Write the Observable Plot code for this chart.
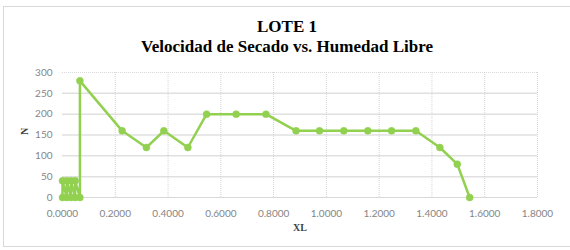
<!DOCTYPE html>
<html>
<head>
<meta charset="utf-8">
<script src="https://cdn.jsdelivr.net/npm/d3@7"></script>
<script src="https://cdn.jsdelivr.net/npm/@observablehq/plot@0.6"></script>
<style>
  html, body { margin: 0; padding: 0; background: #fff; overflow: hidden; width: 570px; height: 250px; }
  #frame { position: absolute; left: 3px; top: 6px; width: 600px; height: 241px; border: 1px solid #d9d9d9; box-sizing: border-box; }
  #title { position: absolute; left: 0; top: 17px; width: 574px; text-align: center; font-family: "Liberation Serif", serif; font-weight: bold; font-size: 17px; line-height: 20px; color: #000; }
  #chart { position: absolute; left: 0; top: 58px; }
</style>
</head>
<body>
<div id="frame"></div>
<div id="title"><div>LOTE 1</div><div>Velocidad de Secado vs. Humedad Libre</div></div>
<div id="chart"></div>
<script>
const titleText = "LOTE 1";
const subtitleText = "Velocidad de Secado vs. Humedad Libre";
const xLabel = "XL";
const yLabel = "N";

// Humedad libre (XL) and velocidad de secado (N), in drawing order
const xl = [0, 0, 0.016, 0.016, 0.032, 0.032, 0.048, 0.048, 0.066, 0.066,
            0.226, 0.318, 0.384, 0.475, 0.546, 0.658, 0.771,
            0.885, 0.974, 1.066, 1.157, 1.247, 1.339, 1.430, 1.496, 1.543];
const n  = [0, 40, 0, 40, 0, 40, 0, 40, 0, 280,
            160, 120, 160, 120, 200, 200, 200,
            160, 160, 160, 160, 160, 160, 120, 80, 0];

const xTicks = [0, 0.2, 0.4, 0.6, 0.8, 1.0, 1.2, 1.4, 1.6, 1.8];
const yTicks = [0, 50, 100, 150, 200, 250, 300];

const data = xl.map((x, i) => ({x, y: n[i]}));
const green = "#92D050";

const chart = Plot.plot({
  width: 570,
  height: 180,
  marginLeft: 62,
  marginRight: 33,
  marginTop: 14,
  marginBottom: 41,
  style: {fontFamily: "Lato, sans-serif", fontSize: "10px", color: "#7f7f7f", background: "transparent"},
  x: {domain: [0, 1.8], ticks: xTicks, tickFormat: d3.format(".4f"), label: null},
  y: {domain: [0, 300], ticks: yTicks, label: null},
  marks: [
    Plot.gridY(yTicks.slice(1, -1), {stroke: "#e0e0e0", strokeOpacity: 1, strokeWidth: 1.5}),
    Plot.ruleY([300], {stroke: "#d9d9d9", strokeDasharray: "1,1"}),
    Plot.gridX(xTicks.slice(1), {stroke: "#d4d4d4", strokeOpacity: 1, strokeDasharray: "1,1"}),
    Plot.ruleY([0], {stroke: "#d9d9d9", strokeWidth: 1}),
    Plot.axisX({ticks: xTicks, tickFormat: d3.format(".4f"), tickSize: 0, tickPadding: 12, label: null, fill: "#858585"}),
    Plot.axisY({ticks: yTicks, tickSize: 0, tickPadding: 10, label: null, fill: "#858585"}),
    Plot.line(data, {x: "x", y: "y", stroke: green, strokeWidth: 2.5, curve: "linear"}),
    Plot.dot(data, {x: "x", y: "y", r: 3.5, fill: green, stroke: green, strokeWidth: 0.5}),
    Plot.text([xLabel], {frameAnchor: "bottom", dy: 33, text: d => d, fontFamily: "Liberation Serif", fontWeight: "bold", fontSize: 10, fill: "#404040"}),
    Plot.text([yLabel], {frameAnchor: "left", dx: -38, rotate: -90, text: d => d, fontFamily: "Liberation Serif", fontWeight: "bold", fontSize: 10, fill: "#404040"})
  ]
});
document.getElementById("chart").appendChild(chart);
</script>
</body>
</html>
